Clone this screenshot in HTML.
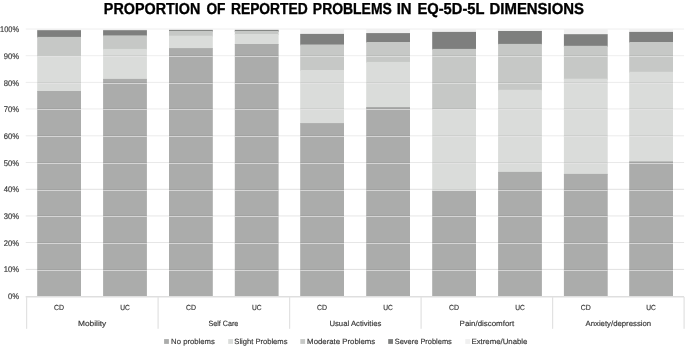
<!DOCTYPE html><html><head><meta charset="utf-8"><style>html,body{margin:0;padding:0;background:#fff;}body{width:685px;height:347px;overflow:hidden;}svg{display:block;will-change:transform;}text{font-family:"Liberation Sans",sans-serif;text-rendering:geometricPrecision;}</style></head><body>
<svg width="685" height="347" viewBox="0 0 685 347">
<rect x="0" y="0" width="685" height="347" fill="#fff"/>
<rect x="25.7" y="268.90" width="658.40" height="1" fill="#e1e1e1"/>
<rect x="25.7" y="242.00" width="658.40" height="1" fill="#e6e6e6"/>
<rect x="25.7" y="215.45" width="658.40" height="1" fill="#e6e6e6"/>
<rect x="25.7" y="188.79" width="658.40" height="1" fill="#e1e1e1"/>
<rect x="25.7" y="162.00" width="658.40" height="1" fill="#e9e9e9"/>
<rect x="25.7" y="135.30" width="658.40" height="1" fill="#ececec"/>
<rect x="25.7" y="108.44" width="658.40" height="1" fill="#ececec"/>
<rect x="25.7" y="81.87" width="658.40" height="1" fill="#ececec"/>
<rect x="25.7" y="55.20" width="658.40" height="1" fill="#eeeeee"/>
<rect x="25.7" y="28.54" width="658.40" height="1" fill="#eeeeee"/>
<rect x="37.2" y="29.03" width="43.8" height="2.17" fill="#f0f0f0"/>
<rect x="37.2" y="30.20" width="43.8" height="7.70" fill="#7e7f7e"/>
<rect x="37.2" y="36.90" width="43.8" height="19.50" fill="#c6c8c6"/>
<rect x="37.2" y="55.40" width="43.8" height="36.60" fill="#dadcda"/>
<rect x="37.2" y="91.00" width="43.8" height="205.03" fill="#abacab"/>
<rect x="37.2" y="269" width="43.8" height="1" fill="#000" fill-opacity="0.05"/>
<rect x="37.2" y="270" width="43.8" height="1" fill="#e5e5e5" fill-opacity="0.72"/>
<rect x="37.2" y="242" width="43.8" height="1" fill="#000" fill-opacity="0.05"/>
<rect x="37.2" y="243" width="43.8" height="1" fill="#e5e5e5" fill-opacity="0.72"/>
<rect x="37.2" y="215" width="43.8" height="1" fill="#000" fill-opacity="0.05"/>
<rect x="37.2" y="216" width="43.8" height="1" fill="#e5e5e5" fill-opacity="0.72"/>
<rect x="37.2" y="189" width="43.8" height="1" fill="#000" fill-opacity="0.05"/>
<rect x="37.2" y="190" width="43.8" height="1" fill="#e5e5e5" fill-opacity="0.72"/>
<rect x="37.2" y="162" width="43.8" height="1" fill="#000" fill-opacity="0.05"/>
<rect x="37.2" y="163" width="43.8" height="1" fill="#e5e5e5" fill-opacity="0.72"/>
<rect x="37.2" y="135" width="43.8" height="1" fill="#000" fill-opacity="0.05"/>
<rect x="37.2" y="136" width="43.8" height="1" fill="#e5e5e5" fill-opacity="0.72"/>
<rect x="37.2" y="108" width="43.8" height="1" fill="#000" fill-opacity="0.05"/>
<rect x="37.2" y="109" width="43.8" height="1" fill="#e5e5e5" fill-opacity="0.72"/>
<rect x="37.2" y="82" width="43.8" height="1" fill="#000" fill-opacity="0.05"/>
<rect x="37.2" y="83" width="43.8" height="1" fill="#e5e5e5" fill-opacity="0.72"/>
<rect x="37.2" y="55" width="43.8" height="1" fill="#000" fill-opacity="0.05"/>
<rect x="37.2" y="56" width="43.8" height="1" fill="#e5e5e5" fill-opacity="0.72"/>
<rect x="103.1" y="29.03" width="43.8" height="2.17" fill="#f0f0f0"/>
<rect x="103.1" y="30.20" width="43.8" height="6.20" fill="#7e7f7e"/>
<rect x="103.1" y="35.40" width="43.8" height="14.50" fill="#c6c8c6"/>
<rect x="103.1" y="48.90" width="43.8" height="31.00" fill="#dadcda"/>
<rect x="103.1" y="78.90" width="43.8" height="217.13" fill="#abacab"/>
<rect x="103.1" y="269" width="43.8" height="1" fill="#000" fill-opacity="0.05"/>
<rect x="103.1" y="270" width="43.8" height="1" fill="#e5e5e5" fill-opacity="0.72"/>
<rect x="103.1" y="242" width="43.8" height="1" fill="#000" fill-opacity="0.05"/>
<rect x="103.1" y="243" width="43.8" height="1" fill="#e5e5e5" fill-opacity="0.72"/>
<rect x="103.1" y="215" width="43.8" height="1" fill="#000" fill-opacity="0.05"/>
<rect x="103.1" y="216" width="43.8" height="1" fill="#e5e5e5" fill-opacity="0.72"/>
<rect x="103.1" y="189" width="43.8" height="1" fill="#000" fill-opacity="0.05"/>
<rect x="103.1" y="190" width="43.8" height="1" fill="#e5e5e5" fill-opacity="0.72"/>
<rect x="103.1" y="162" width="43.8" height="1" fill="#000" fill-opacity="0.05"/>
<rect x="103.1" y="163" width="43.8" height="1" fill="#e5e5e5" fill-opacity="0.72"/>
<rect x="103.1" y="135" width="43.8" height="1" fill="#000" fill-opacity="0.05"/>
<rect x="103.1" y="136" width="43.8" height="1" fill="#e5e5e5" fill-opacity="0.72"/>
<rect x="103.1" y="108" width="43.8" height="1" fill="#000" fill-opacity="0.05"/>
<rect x="103.1" y="109" width="43.8" height="1" fill="#e5e5e5" fill-opacity="0.72"/>
<rect x="103.1" y="82" width="43.8" height="1" fill="#000" fill-opacity="0.05"/>
<rect x="103.1" y="83" width="43.8" height="1" fill="#e5e5e5" fill-opacity="0.72"/>
<rect x="103.1" y="55" width="43.8" height="1" fill="#000" fill-opacity="0.05"/>
<rect x="103.1" y="56" width="43.8" height="1" fill="#e5e5e5" fill-opacity="0.72"/>
<rect x="169.0" y="29.03" width="43.8" height="1.87" fill="#f0f0f0"/>
<rect x="169.0" y="29.90" width="43.8" height="2.00" fill="#7e7f7e"/>
<rect x="169.0" y="30.90" width="43.8" height="5.80" fill="#c6c8c6"/>
<rect x="169.0" y="35.70" width="43.8" height="13.40" fill="#dadcda"/>
<rect x="169.0" y="48.10" width="43.8" height="247.93" fill="#abacab"/>
<rect x="169.0" y="269" width="43.8" height="1" fill="#000" fill-opacity="0.05"/>
<rect x="169.0" y="270" width="43.8" height="1" fill="#e5e5e5" fill-opacity="0.72"/>
<rect x="169.0" y="242" width="43.8" height="1" fill="#000" fill-opacity="0.05"/>
<rect x="169.0" y="243" width="43.8" height="1" fill="#e5e5e5" fill-opacity="0.72"/>
<rect x="169.0" y="215" width="43.8" height="1" fill="#000" fill-opacity="0.05"/>
<rect x="169.0" y="216" width="43.8" height="1" fill="#e5e5e5" fill-opacity="0.72"/>
<rect x="169.0" y="189" width="43.8" height="1" fill="#000" fill-opacity="0.05"/>
<rect x="169.0" y="190" width="43.8" height="1" fill="#e5e5e5" fill-opacity="0.72"/>
<rect x="169.0" y="162" width="43.8" height="1" fill="#000" fill-opacity="0.05"/>
<rect x="169.0" y="163" width="43.8" height="1" fill="#e5e5e5" fill-opacity="0.72"/>
<rect x="169.0" y="135" width="43.8" height="1" fill="#000" fill-opacity="0.05"/>
<rect x="169.0" y="136" width="43.8" height="1" fill="#e5e5e5" fill-opacity="0.72"/>
<rect x="169.0" y="108" width="43.8" height="1" fill="#000" fill-opacity="0.05"/>
<rect x="169.0" y="109" width="43.8" height="1" fill="#e5e5e5" fill-opacity="0.72"/>
<rect x="169.0" y="82" width="43.8" height="1" fill="#000" fill-opacity="0.05"/>
<rect x="169.0" y="83" width="43.8" height="1" fill="#e5e5e5" fill-opacity="0.72"/>
<rect x="169.0" y="55" width="43.8" height="1" fill="#000" fill-opacity="0.05"/>
<rect x="169.0" y="56" width="43.8" height="1" fill="#e5e5e5" fill-opacity="0.72"/>
<rect x="234.8" y="29.03" width="43.8" height="1.87" fill="#f0f0f0"/>
<rect x="234.8" y="29.90" width="43.8" height="2.00" fill="#7e7f7e"/>
<rect x="234.8" y="30.90" width="43.8" height="4.10" fill="#c6c8c6"/>
<rect x="234.8" y="34.00" width="43.8" height="11.00" fill="#dadcda"/>
<rect x="234.8" y="44.00" width="43.8" height="252.03" fill="#abacab"/>
<rect x="234.8" y="269" width="43.8" height="1" fill="#000" fill-opacity="0.05"/>
<rect x="234.8" y="270" width="43.8" height="1" fill="#e5e5e5" fill-opacity="0.72"/>
<rect x="234.8" y="242" width="43.8" height="1" fill="#000" fill-opacity="0.05"/>
<rect x="234.8" y="243" width="43.8" height="1" fill="#e5e5e5" fill-opacity="0.72"/>
<rect x="234.8" y="215" width="43.8" height="1" fill="#000" fill-opacity="0.05"/>
<rect x="234.8" y="216" width="43.8" height="1" fill="#e5e5e5" fill-opacity="0.72"/>
<rect x="234.8" y="189" width="43.8" height="1" fill="#000" fill-opacity="0.05"/>
<rect x="234.8" y="190" width="43.8" height="1" fill="#e5e5e5" fill-opacity="0.72"/>
<rect x="234.8" y="162" width="43.8" height="1" fill="#000" fill-opacity="0.05"/>
<rect x="234.8" y="163" width="43.8" height="1" fill="#e5e5e5" fill-opacity="0.72"/>
<rect x="234.8" y="135" width="43.8" height="1" fill="#000" fill-opacity="0.05"/>
<rect x="234.8" y="136" width="43.8" height="1" fill="#e5e5e5" fill-opacity="0.72"/>
<rect x="234.8" y="108" width="43.8" height="1" fill="#000" fill-opacity="0.05"/>
<rect x="234.8" y="109" width="43.8" height="1" fill="#e5e5e5" fill-opacity="0.72"/>
<rect x="234.8" y="82" width="43.8" height="1" fill="#000" fill-opacity="0.05"/>
<rect x="234.8" y="83" width="43.8" height="1" fill="#e5e5e5" fill-opacity="0.72"/>
<rect x="234.8" y="55" width="43.8" height="1" fill="#000" fill-opacity="0.05"/>
<rect x="234.8" y="56" width="43.8" height="1" fill="#e5e5e5" fill-opacity="0.72"/>
<rect x="300.2" y="29.03" width="43.8" height="5.87" fill="#f0f0f0"/>
<rect x="300.2" y="33.90" width="43.8" height="11.60" fill="#7e7f7e"/>
<rect x="300.2" y="44.50" width="43.8" height="26.50" fill="#c6c8c6"/>
<rect x="300.2" y="70.00" width="43.8" height="54.10" fill="#dadcda"/>
<rect x="300.2" y="123.10" width="43.8" height="172.93" fill="#abacab"/>
<rect x="300.2" y="269" width="43.8" height="1" fill="#000" fill-opacity="0.05"/>
<rect x="300.2" y="270" width="43.8" height="1" fill="#e5e5e5" fill-opacity="0.72"/>
<rect x="300.2" y="242" width="43.8" height="1" fill="#000" fill-opacity="0.05"/>
<rect x="300.2" y="243" width="43.8" height="1" fill="#e5e5e5" fill-opacity="0.72"/>
<rect x="300.2" y="215" width="43.8" height="1" fill="#000" fill-opacity="0.05"/>
<rect x="300.2" y="216" width="43.8" height="1" fill="#e5e5e5" fill-opacity="0.72"/>
<rect x="300.2" y="189" width="43.8" height="1" fill="#000" fill-opacity="0.05"/>
<rect x="300.2" y="190" width="43.8" height="1" fill="#e5e5e5" fill-opacity="0.72"/>
<rect x="300.2" y="162" width="43.8" height="1" fill="#000" fill-opacity="0.05"/>
<rect x="300.2" y="163" width="43.8" height="1" fill="#e5e5e5" fill-opacity="0.72"/>
<rect x="300.2" y="135" width="43.8" height="1" fill="#000" fill-opacity="0.05"/>
<rect x="300.2" y="136" width="43.8" height="1" fill="#e5e5e5" fill-opacity="0.72"/>
<rect x="300.2" y="108" width="43.8" height="1" fill="#000" fill-opacity="0.05"/>
<rect x="300.2" y="109" width="43.8" height="1" fill="#e5e5e5" fill-opacity="0.72"/>
<rect x="300.2" y="82" width="43.8" height="1" fill="#000" fill-opacity="0.05"/>
<rect x="300.2" y="83" width="43.8" height="1" fill="#e5e5e5" fill-opacity="0.72"/>
<rect x="300.2" y="55" width="43.8" height="1" fill="#000" fill-opacity="0.05"/>
<rect x="300.2" y="56" width="43.8" height="1" fill="#e5e5e5" fill-opacity="0.72"/>
<rect x="366.2" y="29.03" width="43.8" height="5.07" fill="#f0f0f0"/>
<rect x="366.2" y="33.10" width="43.8" height="9.90" fill="#7e7f7e"/>
<rect x="366.2" y="42.00" width="43.8" height="20.90" fill="#c6c8c6"/>
<rect x="366.2" y="61.90" width="43.8" height="46.10" fill="#dadcda"/>
<rect x="366.2" y="107.00" width="43.8" height="189.03" fill="#abacab"/>
<rect x="366.2" y="269" width="43.8" height="1" fill="#000" fill-opacity="0.05"/>
<rect x="366.2" y="270" width="43.8" height="1" fill="#e5e5e5" fill-opacity="0.72"/>
<rect x="366.2" y="242" width="43.8" height="1" fill="#000" fill-opacity="0.05"/>
<rect x="366.2" y="243" width="43.8" height="1" fill="#e5e5e5" fill-opacity="0.72"/>
<rect x="366.2" y="215" width="43.8" height="1" fill="#000" fill-opacity="0.05"/>
<rect x="366.2" y="216" width="43.8" height="1" fill="#e5e5e5" fill-opacity="0.72"/>
<rect x="366.2" y="189" width="43.8" height="1" fill="#000" fill-opacity="0.05"/>
<rect x="366.2" y="190" width="43.8" height="1" fill="#e5e5e5" fill-opacity="0.72"/>
<rect x="366.2" y="162" width="43.8" height="1" fill="#000" fill-opacity="0.05"/>
<rect x="366.2" y="163" width="43.8" height="1" fill="#e5e5e5" fill-opacity="0.72"/>
<rect x="366.2" y="135" width="43.8" height="1" fill="#000" fill-opacity="0.05"/>
<rect x="366.2" y="136" width="43.8" height="1" fill="#e5e5e5" fill-opacity="0.72"/>
<rect x="366.2" y="108" width="43.8" height="1" fill="#000" fill-opacity="0.05"/>
<rect x="366.2" y="109" width="43.8" height="1" fill="#e5e5e5" fill-opacity="0.72"/>
<rect x="366.2" y="82" width="43.8" height="1" fill="#000" fill-opacity="0.05"/>
<rect x="366.2" y="83" width="43.8" height="1" fill="#e5e5e5" fill-opacity="0.72"/>
<rect x="366.2" y="55" width="43.8" height="1" fill="#000" fill-opacity="0.05"/>
<rect x="366.2" y="56" width="43.8" height="1" fill="#e5e5e5" fill-opacity="0.72"/>
<rect x="432.2" y="29.03" width="43.8" height="3.87" fill="#f0f0f0"/>
<rect x="432.2" y="31.90" width="43.8" height="18.00" fill="#7e7f7e"/>
<rect x="432.2" y="48.90" width="43.8" height="61.10" fill="#c6c8c6"/>
<rect x="432.2" y="109.00" width="43.8" height="82.80" fill="#dadcda"/>
<rect x="432.2" y="190.80" width="43.8" height="105.23" fill="#abacab"/>
<rect x="432.2" y="269" width="43.8" height="1" fill="#000" fill-opacity="0.05"/>
<rect x="432.2" y="270" width="43.8" height="1" fill="#e5e5e5" fill-opacity="0.72"/>
<rect x="432.2" y="242" width="43.8" height="1" fill="#000" fill-opacity="0.05"/>
<rect x="432.2" y="243" width="43.8" height="1" fill="#e5e5e5" fill-opacity="0.72"/>
<rect x="432.2" y="215" width="43.8" height="1" fill="#000" fill-opacity="0.05"/>
<rect x="432.2" y="216" width="43.8" height="1" fill="#e5e5e5" fill-opacity="0.72"/>
<rect x="432.2" y="189" width="43.8" height="1" fill="#000" fill-opacity="0.05"/>
<rect x="432.2" y="190" width="43.8" height="1" fill="#e5e5e5" fill-opacity="0.72"/>
<rect x="432.2" y="162" width="43.8" height="1" fill="#000" fill-opacity="0.05"/>
<rect x="432.2" y="163" width="43.8" height="1" fill="#e5e5e5" fill-opacity="0.72"/>
<rect x="432.2" y="135" width="43.8" height="1" fill="#000" fill-opacity="0.05"/>
<rect x="432.2" y="136" width="43.8" height="1" fill="#e5e5e5" fill-opacity="0.72"/>
<rect x="432.2" y="108" width="43.8" height="1" fill="#000" fill-opacity="0.05"/>
<rect x="432.2" y="109" width="43.8" height="1" fill="#e5e5e5" fill-opacity="0.72"/>
<rect x="432.2" y="82" width="43.8" height="1" fill="#000" fill-opacity="0.05"/>
<rect x="432.2" y="83" width="43.8" height="1" fill="#e5e5e5" fill-opacity="0.72"/>
<rect x="432.2" y="55" width="43.8" height="1" fill="#000" fill-opacity="0.05"/>
<rect x="432.2" y="56" width="43.8" height="1" fill="#e5e5e5" fill-opacity="0.72"/>
<rect x="498.1" y="29.03" width="43.8" height="2.97" fill="#f0f0f0"/>
<rect x="498.1" y="31.00" width="43.8" height="13.90" fill="#7e7f7e"/>
<rect x="498.1" y="43.90" width="43.8" height="46.90" fill="#c6c8c6"/>
<rect x="498.1" y="89.80" width="43.8" height="83.10" fill="#dadcda"/>
<rect x="498.1" y="171.90" width="43.8" height="124.13" fill="#abacab"/>
<rect x="498.1" y="269" width="43.8" height="1" fill="#000" fill-opacity="0.05"/>
<rect x="498.1" y="270" width="43.8" height="1" fill="#e5e5e5" fill-opacity="0.72"/>
<rect x="498.1" y="242" width="43.8" height="1" fill="#000" fill-opacity="0.05"/>
<rect x="498.1" y="243" width="43.8" height="1" fill="#e5e5e5" fill-opacity="0.72"/>
<rect x="498.1" y="215" width="43.8" height="1" fill="#000" fill-opacity="0.05"/>
<rect x="498.1" y="216" width="43.8" height="1" fill="#e5e5e5" fill-opacity="0.72"/>
<rect x="498.1" y="189" width="43.8" height="1" fill="#000" fill-opacity="0.05"/>
<rect x="498.1" y="190" width="43.8" height="1" fill="#e5e5e5" fill-opacity="0.72"/>
<rect x="498.1" y="162" width="43.8" height="1" fill="#000" fill-opacity="0.05"/>
<rect x="498.1" y="163" width="43.8" height="1" fill="#e5e5e5" fill-opacity="0.72"/>
<rect x="498.1" y="135" width="43.8" height="1" fill="#000" fill-opacity="0.05"/>
<rect x="498.1" y="136" width="43.8" height="1" fill="#e5e5e5" fill-opacity="0.72"/>
<rect x="498.1" y="108" width="43.8" height="1" fill="#000" fill-opacity="0.05"/>
<rect x="498.1" y="109" width="43.8" height="1" fill="#e5e5e5" fill-opacity="0.72"/>
<rect x="498.1" y="82" width="43.8" height="1" fill="#000" fill-opacity="0.05"/>
<rect x="498.1" y="83" width="43.8" height="1" fill="#e5e5e5" fill-opacity="0.72"/>
<rect x="498.1" y="55" width="43.8" height="1" fill="#000" fill-opacity="0.05"/>
<rect x="498.1" y="56" width="43.8" height="1" fill="#e5e5e5" fill-opacity="0.72"/>
<rect x="563.9" y="29.03" width="43.8" height="6.17" fill="#f0f0f0"/>
<rect x="563.9" y="34.20" width="43.8" height="12.60" fill="#7e7f7e"/>
<rect x="563.9" y="45.80" width="43.8" height="33.90" fill="#c6c8c6"/>
<rect x="563.9" y="78.70" width="43.8" height="96.20" fill="#dadcda"/>
<rect x="563.9" y="173.90" width="43.8" height="122.13" fill="#abacab"/>
<rect x="563.9" y="269" width="43.8" height="1" fill="#000" fill-opacity="0.05"/>
<rect x="563.9" y="270" width="43.8" height="1" fill="#e5e5e5" fill-opacity="0.72"/>
<rect x="563.9" y="242" width="43.8" height="1" fill="#000" fill-opacity="0.05"/>
<rect x="563.9" y="243" width="43.8" height="1" fill="#e5e5e5" fill-opacity="0.72"/>
<rect x="563.9" y="215" width="43.8" height="1" fill="#000" fill-opacity="0.05"/>
<rect x="563.9" y="216" width="43.8" height="1" fill="#e5e5e5" fill-opacity="0.72"/>
<rect x="563.9" y="189" width="43.8" height="1" fill="#000" fill-opacity="0.05"/>
<rect x="563.9" y="190" width="43.8" height="1" fill="#e5e5e5" fill-opacity="0.72"/>
<rect x="563.9" y="162" width="43.8" height="1" fill="#000" fill-opacity="0.05"/>
<rect x="563.9" y="163" width="43.8" height="1" fill="#e5e5e5" fill-opacity="0.72"/>
<rect x="563.9" y="135" width="43.8" height="1" fill="#000" fill-opacity="0.05"/>
<rect x="563.9" y="136" width="43.8" height="1" fill="#e5e5e5" fill-opacity="0.72"/>
<rect x="563.9" y="108" width="43.8" height="1" fill="#000" fill-opacity="0.05"/>
<rect x="563.9" y="109" width="43.8" height="1" fill="#e5e5e5" fill-opacity="0.72"/>
<rect x="563.9" y="82" width="43.8" height="1" fill="#000" fill-opacity="0.05"/>
<rect x="563.9" y="83" width="43.8" height="1" fill="#e5e5e5" fill-opacity="0.72"/>
<rect x="563.9" y="55" width="43.8" height="1" fill="#000" fill-opacity="0.05"/>
<rect x="563.9" y="56" width="43.8" height="1" fill="#e5e5e5" fill-opacity="0.72"/>
<rect x="629.2" y="29.03" width="43.8" height="3.87" fill="#f0f0f0"/>
<rect x="629.2" y="31.90" width="43.8" height="11.10" fill="#7e7f7e"/>
<rect x="629.2" y="42.00" width="43.8" height="30.80" fill="#c6c8c6"/>
<rect x="629.2" y="71.80" width="43.8" height="90.60" fill="#dadcda"/>
<rect x="629.2" y="161.40" width="43.8" height="134.63" fill="#abacab"/>
<rect x="629.2" y="269" width="43.8" height="1" fill="#000" fill-opacity="0.05"/>
<rect x="629.2" y="270" width="43.8" height="1" fill="#e5e5e5" fill-opacity="0.72"/>
<rect x="629.2" y="242" width="43.8" height="1" fill="#000" fill-opacity="0.05"/>
<rect x="629.2" y="243" width="43.8" height="1" fill="#e5e5e5" fill-opacity="0.72"/>
<rect x="629.2" y="215" width="43.8" height="1" fill="#000" fill-opacity="0.05"/>
<rect x="629.2" y="216" width="43.8" height="1" fill="#e5e5e5" fill-opacity="0.72"/>
<rect x="629.2" y="189" width="43.8" height="1" fill="#000" fill-opacity="0.05"/>
<rect x="629.2" y="190" width="43.8" height="1" fill="#e5e5e5" fill-opacity="0.72"/>
<rect x="629.2" y="162" width="43.8" height="1" fill="#000" fill-opacity="0.05"/>
<rect x="629.2" y="163" width="43.8" height="1" fill="#e5e5e5" fill-opacity="0.72"/>
<rect x="629.2" y="135" width="43.8" height="1" fill="#000" fill-opacity="0.05"/>
<rect x="629.2" y="136" width="43.8" height="1" fill="#e5e5e5" fill-opacity="0.72"/>
<rect x="629.2" y="108" width="43.8" height="1" fill="#000" fill-opacity="0.05"/>
<rect x="629.2" y="109" width="43.8" height="1" fill="#e5e5e5" fill-opacity="0.72"/>
<rect x="629.2" y="82" width="43.8" height="1" fill="#000" fill-opacity="0.05"/>
<rect x="629.2" y="83" width="43.8" height="1" fill="#e5e5e5" fill-opacity="0.72"/>
<rect x="629.2" y="55" width="43.8" height="1" fill="#000" fill-opacity="0.05"/>
<rect x="629.2" y="56" width="43.8" height="1" fill="#e5e5e5" fill-opacity="0.72"/>
<rect x="25.7" y="296.0" width="658.40" height="1.5" fill="#dfdfdf"/>
<rect x="26.00" y="297.0" width="1.2" height="31.80" fill="#e2e2e2"/>
<rect x="157.50" y="297.0" width="1.2" height="31.80" fill="#e2e2e2"/>
<rect x="289.00" y="297.0" width="1.2" height="31.80" fill="#e2e2e2"/>
<rect x="420.50" y="297.0" width="1.2" height="31.80" fill="#e2e2e2"/>
<rect x="552.00" y="297.0" width="1.2" height="31.80" fill="#e2e2e2"/>
<rect x="683.50" y="297.0" width="1.2" height="31.80" fill="#e2e2e2"/>
<rect x="164.1" y="339.1" width="4.8" height="4.8" fill="#abacab"/>
<rect x="228.2" y="339.1" width="4.8" height="4.8" fill="#dadcda"/>
<rect x="300.3" y="339.1" width="4.8" height="4.8" fill="#c6c8c6"/>
<rect x="388.2" y="339.1" width="4.8" height="4.8" fill="#7e7f7e"/>
<rect x="465.3" y="339.1" width="4.8" height="4.8" fill="#f0f0f0"/>
<text id="w0" x="103.84" y="13.60" font-size="15.9" font-weight="bold" stroke="#000" stroke-width="0.35" fill="#000" textLength="96.41" lengthAdjust="spacingAndGlyphs">PROPORTION</text>
<text id="w1" x="206.44" y="13.60" font-size="15.9" font-weight="bold" stroke="#000" stroke-width="0.35" fill="#000" textLength="19.01" lengthAdjust="spacingAndGlyphs">OF</text>
<text id="w2" x="230.94" y="13.60" font-size="15.9" font-weight="bold" stroke="#000" stroke-width="0.35" fill="#000" textLength="76.81" lengthAdjust="spacingAndGlyphs">REPORTED</text>
<text id="w3" x="312.84" y="13.60" font-size="15.9" font-weight="bold" stroke="#000" stroke-width="0.35" fill="#000" textLength="79.01" lengthAdjust="spacingAndGlyphs">PROBLEMS</text>
<text id="w4" x="396.64" y="13.60" font-size="15.9" font-weight="bold" stroke="#000" stroke-width="0.35" fill="#000" textLength="14.91" lengthAdjust="spacingAndGlyphs">IN</text>
<text id="w5" x="417.44" y="13.60" font-size="15.9" font-weight="bold" stroke="#000" stroke-width="0.35" fill="#000" textLength="67.01" lengthAdjust="spacingAndGlyphs">EQ-5D-5L</text>
<text id="w6" x="489.54" y="13.60" font-size="15.9" font-weight="bold" stroke="#000" stroke-width="0.35" fill="#000" textLength="94.51" lengthAdjust="spacingAndGlyphs">DIMENSIONS</text>
<text id="y0" x="8.01" y="299.13" font-size="8.2" stroke="#3a3a3a" stroke-width="0.18" fill="#3a3a3a" textLength="11.07" lengthAdjust="spacingAndGlyphs">0%</text>
<text id="y1" x="3.71" y="272.43" font-size="8.2" stroke="#3a3a3a" stroke-width="0.18" fill="#3a3a3a" textLength="15.37" lengthAdjust="spacingAndGlyphs">10%</text>
<text id="y2" x="3.71" y="245.73" font-size="8.2" stroke="#3a3a3a" stroke-width="0.18" fill="#3a3a3a" textLength="15.37" lengthAdjust="spacingAndGlyphs">20%</text>
<text id="y3" x="3.71" y="219.03" font-size="8.2" stroke="#3a3a3a" stroke-width="0.18" fill="#3a3a3a" textLength="15.37" lengthAdjust="spacingAndGlyphs">30%</text>
<text id="y4" x="3.71" y="192.33" font-size="8.2" stroke="#3a3a3a" stroke-width="0.18" fill="#3a3a3a" textLength="15.37" lengthAdjust="spacingAndGlyphs">40%</text>
<text id="y5" x="3.71" y="165.63" font-size="8.2" stroke="#3a3a3a" stroke-width="0.18" fill="#3a3a3a" textLength="15.37" lengthAdjust="spacingAndGlyphs">50%</text>
<text id="y6" x="3.71" y="138.93" font-size="8.2" stroke="#3a3a3a" stroke-width="0.18" fill="#3a3a3a" textLength="15.37" lengthAdjust="spacingAndGlyphs">60%</text>
<text id="y7" x="3.71" y="112.23" font-size="8.2" stroke="#3a3a3a" stroke-width="0.18" fill="#3a3a3a" textLength="15.37" lengthAdjust="spacingAndGlyphs">70%</text>
<text id="y8" x="3.71" y="85.53" font-size="8.2" stroke="#3a3a3a" stroke-width="0.18" fill="#3a3a3a" textLength="15.37" lengthAdjust="spacingAndGlyphs">80%</text>
<text id="y9" x="3.71" y="58.83" font-size="8.2" stroke="#3a3a3a" stroke-width="0.18" fill="#3a3a3a" textLength="15.37" lengthAdjust="spacingAndGlyphs">90%</text>
<text id="y10" x="0.11" y="32.13" font-size="8.2" stroke="#3a3a3a" stroke-width="0.18" fill="#3a3a3a" textLength="18.97" lengthAdjust="spacingAndGlyphs">100%</text>
<text id="s0" x="54.09" y="310.00" font-size="7.4" stroke="#3a3a3a" stroke-width="0.18" fill="#3a3a3a" textLength="10.02" lengthAdjust="spacingAndGlyphs">CD</text>
<text id="s1" x="120.19" y="310.00" font-size="7.4" stroke="#3a3a3a" stroke-width="0.18" fill="#3a3a3a" textLength="9.62" lengthAdjust="spacingAndGlyphs">UC</text>
<text id="s2" x="185.89" y="310.00" font-size="7.4" stroke="#3a3a3a" stroke-width="0.18" fill="#3a3a3a" textLength="10.02" lengthAdjust="spacingAndGlyphs">CD</text>
<text id="s3" x="251.89" y="310.00" font-size="7.4" stroke="#3a3a3a" stroke-width="0.18" fill="#3a3a3a" textLength="9.62" lengthAdjust="spacingAndGlyphs">UC</text>
<text id="s4" x="317.09" y="310.00" font-size="7.4" stroke="#3a3a3a" stroke-width="0.18" fill="#3a3a3a" textLength="10.02" lengthAdjust="spacingAndGlyphs">CD</text>
<text id="s5" x="383.29" y="310.00" font-size="7.4" stroke="#3a3a3a" stroke-width="0.18" fill="#3a3a3a" textLength="9.62" lengthAdjust="spacingAndGlyphs">UC</text>
<text id="s6" x="449.09" y="310.00" font-size="7.4" stroke="#3a3a3a" stroke-width="0.18" fill="#3a3a3a" textLength="10.02" lengthAdjust="spacingAndGlyphs">CD</text>
<text id="s7" x="515.19" y="310.00" font-size="7.4" stroke="#3a3a3a" stroke-width="0.18" fill="#3a3a3a" textLength="9.62" lengthAdjust="spacingAndGlyphs">UC</text>
<text id="s8" x="580.79" y="310.00" font-size="7.4" stroke="#3a3a3a" stroke-width="0.18" fill="#3a3a3a" textLength="10.02" lengthAdjust="spacingAndGlyphs">CD</text>
<text id="s9" x="646.29" y="310.00" font-size="7.4" stroke="#3a3a3a" stroke-width="0.18" fill="#3a3a3a" textLength="9.62" lengthAdjust="spacingAndGlyphs">UC</text>
<text id="c0" x="77.93" y="326.30" font-size="7.6" stroke="#3a3a3a" stroke-width="0.18" fill="#3a3a3a" textLength="28.33" lengthAdjust="spacingAndGlyphs">Mobility</text>
<text id="c1" x="208.43" y="326.30" font-size="7.6" stroke="#3a3a3a" stroke-width="0.18" fill="#3a3a3a" textLength="29.83" lengthAdjust="spacingAndGlyphs">Self Care</text>
<text id="c2" x="329.43" y="326.30" font-size="7.6" stroke="#3a3a3a" stroke-width="0.18" fill="#3a3a3a" textLength="51.93" lengthAdjust="spacingAndGlyphs">Usual Activities</text>
<text id="c3" x="459.63" y="326.30" font-size="7.6" stroke="#3a3a3a" stroke-width="0.18" fill="#3a3a3a" textLength="54.53" lengthAdjust="spacingAndGlyphs">Pain/discomfort</text>
<text id="c4" x="585.53" y="326.30" font-size="7.6" stroke="#3a3a3a" stroke-width="0.18" fill="#3a3a3a" textLength="65.63" lengthAdjust="spacingAndGlyphs">Anxiety/depression</text>
<text id="l0" x="171.13" y="344.00" font-size="7.6" stroke="#3a3a3a" stroke-width="0.18" fill="#3a3a3a" textLength="43.73" lengthAdjust="spacingAndGlyphs">No problems</text>
<text id="l1" x="234.33" y="344.00" font-size="7.6" stroke="#3a3a3a" stroke-width="0.18" fill="#3a3a3a" textLength="53.13" lengthAdjust="spacingAndGlyphs">Slight Problems</text>
<text id="l2" x="307.13" y="344.00" font-size="7.6" stroke="#3a3a3a" stroke-width="0.18" fill="#3a3a3a" textLength="68.13" lengthAdjust="spacingAndGlyphs">Moderate Problems</text>
<text id="l3" x="394.73" y="344.00" font-size="7.6" stroke="#3a3a3a" stroke-width="0.18" fill="#3a3a3a" textLength="57.13" lengthAdjust="spacingAndGlyphs">Severe Problems</text>
<text id="l4" x="471.43" y="344.00" font-size="7.6" stroke="#3a3a3a" stroke-width="0.18" fill="#3a3a3a" textLength="56.03" lengthAdjust="spacingAndGlyphs">Extreme/Unable</text>
</svg></body></html>
